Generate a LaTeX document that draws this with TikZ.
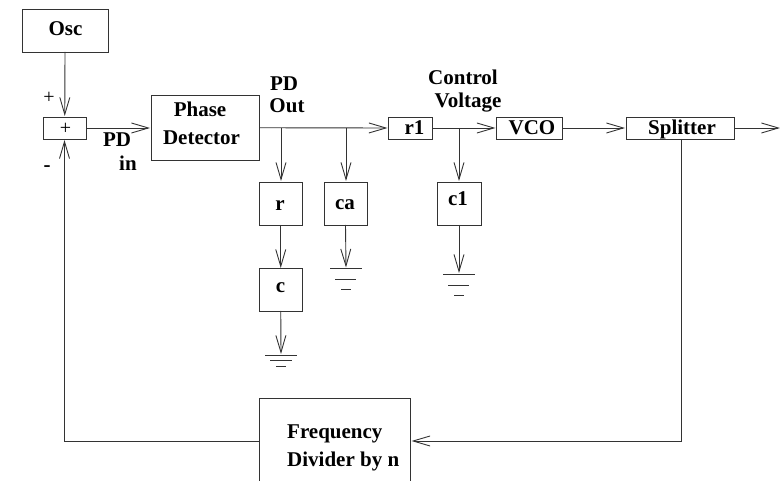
\documentclass[tikz,border=0pt]{standalone}
\usepackage{fontspec}
\setmainfont{Liberation Serif}
\usetikzlibrary{arrows.meta}
\tikzset{
  blk/.style={draw=black!80,line width=0.9pt,inner sep=0pt,outer sep=0pt},
  txt/.style={font=\fontsize{21}{23}\selectfont\bfseries,inner sep=0pt,anchor=base},
  wire/.style={draw=black!80,line width=0.9pt},
  arr/.style={wire,-{Straight Barb[length=17pt,width=10pt,line width=0.9pt]}},
  gnd/.style={draw=black!80,line width=0.9pt}
}
\newcommand{\bx}[5]{\node[blk,minimum width=#4pt,minimum height=#5pt] (#1) at (#2,#3) {};}
\begin{document}
\begin{tikzpicture}[x=1pt,y=-1pt]
\useasboundingbox (0,0) rectangle (780,481);
\clip (0,0) rectangle (780,481);
\bx{osc}{65}{30.5}{86}{43}
\bx{sum}{64.75}{128}{43.5}{22}
\bx{pd}{205}{127.75}{108}{64.5}
\bx{r}{280.75}{203.5}{43.5}{43}
\bx{ca}{345.5}{203.5}{43}{43}
\bx{cone}{459}{203.5}{44}{43}
\bx{c}{280.75}{289.5}{43.5}{43}
\bx{rone}{410.25}{128}{43.5}{22}
\bx{vco}{529.25}{128}{65.5}{22}
\bx{split}{680.25}{128}{108.5}{22}
\bx{fd}{334.75}{443}{151.5}{90}
% texts
\node[txt] (tosc) at (65.5,36) {Osc};
\node[font=\fontsize{20}{22}\selectfont,inner sep=0pt,anchor=base] (tsum) at (65.5,135) {+};
\node[font=\fontsize{20}{22}\selectfont,inner sep=0pt,anchor=base] (tplus) at (49,104) {+};
\node[txt] (tminus) at (47,172) {-};
\node[txt] (tp1) at (200,116.5) {Phase};
\node[txt] (tp2) at (201.5,144.5) {Detector};
\node[txt] (tpd1) at (117,147) {PD};
\node[txt] (tpd2) at (128,171) {in};
\node[txt] (tout1) at (284,91) {PD};
\node[txt] (tout2) at (287,113) {Out};
\node[txt] (tc1) at (463,85) {Control};
\node[txt] (tc2) at (468,108) {Voltage};
\node[txt] (tr) at (280,211) {r};
\node[txt] (tca) at (345,209.5) {ca};
\node[txt] (tcone) at (458,206) {c1};
\node[txt] (tc) at (280.5,293) {c};
\node[txt] (trone) at (414.5,135) {r1};
\node[txt] (tvco) at (532,135) {VCO};
\node[txt] (tsplit) at (682,135) {Splitter};
\node[txt,anchor=base west] (tf1) at (287,438) {Frequency};
\node[txt,anchor=base west] (tf2) at (287,466) {Divider by n};
% named points
\coordinate (j1) at (281,128);
\coordinate (j2) at (346,128);
\coordinate (j3) at (459,128);
\coordinate (jout) at (780,128);
\coordinate (s1) at (681,139);
\coordinate (s2) at (681,441);
\coordinate (s3) at (411.5,441);
\coordinate (f1) at (259,441);
\coordinate (f2) at (64.5,441);
\coordinate (f3) at (64.5,140);
\coordinate (g1) at (346,267.5);
\coordinate (g2) at (459,273);
\coordinate (g3) at (281,354);
% connectors
\draw[arr] (osc.south) -- (64.75,116);
\draw[arr] (sum.east) -- (150,128);
\draw[arr] (pd.east) -- (387.5,128);
\draw[arr] (j1) -- (281,181);
\draw[arr] (j2) -- (346,181);
\draw[arr] (r.south) -- (c.north);
\draw[arr] (c.south) -- (g3);
\draw[arr] (ca.south) -- (g1);
\draw[arr] (cone.south) -- (g2);
\draw[arr] (rone.east) -- (495.5,128);
\draw[arr] (j3) -- (459,181);
\draw[arr] (vco.east) -- (625,128);
\draw[arr] (split.east) -- (jout);
\draw[arr] (s1) -- (s2) -- (s3);
\draw[arr] (f1) -- (f2) -- (f3);
% grounds
\draw[gnd] (330,268.5) -- (362,268.5) (335,279) -- (356,279) (341,289.5) -- (351,289.5);
\draw[gnd] (443,274) -- (475,274) (448,285) -- (469,285) (454,295.5) -- (464,295.5);
\draw[gnd] (265,355) -- (297,355) (270,360.5) -- (292,360.5) (276,366) -- (286,366);
\end{tikzpicture}
\end{document}
